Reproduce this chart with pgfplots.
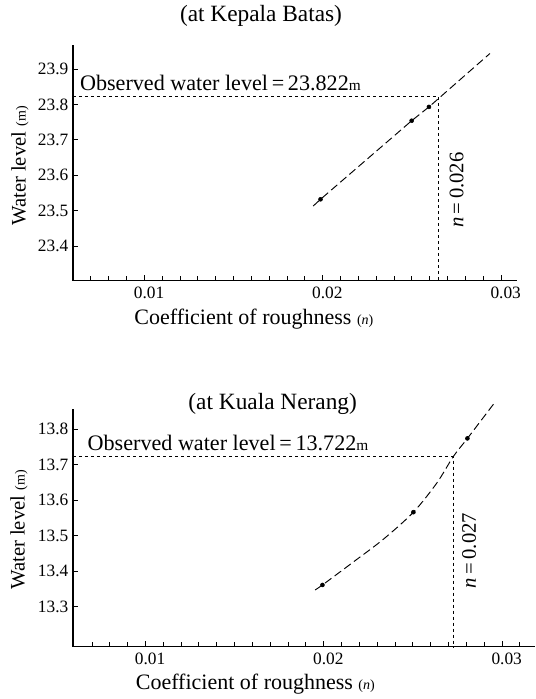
\documentclass[border=0pt]{standalone}
\usepackage{pgfplots}
\pgfplotsset{compat=1.18}
\usepackage{fontspec}
\setmainfont{Liberation Serif}
\begin{document}
\begin{tikzpicture}
\useasboundingbox (0,0) rectangle (401.25pt,524.25pt);
\pgfplotsset{
  myax/.style={
    scale only axis,
    anchor=south west,
    axis x line*=bottom,
    axis y line*=left,
    axis line style={-, line width=0.8pt},
    tick align=inside,
    major tick length=4pt,
    minor tick length=3.5pt,
    tick style={line width=0.6pt, black},
    scaled x ticks=false,
    scaled y ticks=false,
    /pgf/number format/assume math mode=true,
    x tick label style={font=\fontsize{13}{14}\selectfont, yshift=-1pt, xshift=3.5pt},
    y tick label style={font=\fontsize{13}{14}\selectfont},
    xtick={0.01,0.02,0.03},
    xticklabels={0.01,0.02,0.03},
    clip=false,
  },
  curve/.style={black, line width=0.7pt, dash pattern=on 6pt off 3pt},
  refl/.style={black, line width=0.6pt, dash pattern=on 2.5pt off 2pt},
  pts/.style={only marks, mark=*, mark size=1.5pt, black},
}
% ---------- Top: Kepala Batas ----------
\begin{axis}[myax,
  at={(54.75pt,313.725pt)},
  width=332.775pt, height=176.775pt,
  xmin=0.006, xmax=0.03088,
  ymin=23.302, ymax=23.968,
  minor xtick={0.007,0.008,0.009,0.011,0.012,0.013,0.014,0.015,0.016,0.017,0.018,0.019,0.021,0.022,0.023,0.024,0.025,0.026,0.027,0.028,0.029},
  ytick={23.4,23.5,23.6,23.7,23.8,23.9},
  yticklabels={23.4,23.5,23.6,23.7,23.8,23.9},
]
\addplot[refl] coordinates {(0.006,23.822) (0.0265,23.822) (0.0265,23.302)};
\addplot[curve] coordinates {(0.01947,23.513) (0.01988,23.532) (0.02499,23.754) (0.02596,23.793) (0.02938,23.944)};
\addplot[pts] coordinates {(0.01988,23.532) (0.02499,23.754) (0.02596,23.793)};
\node[anchor=base west, inner sep=0pt, font=\fontsize{16.6}{18}\selectfont] at (axis cs:0.00638,23.838) {Observed water level\,=\,23.822{\fontsize{11.5}{12}\selectfont m}};
\node[rotate=90, inner sep=0pt, font=\fontsize{15.5}{17}\selectfont] at (axis cs:0.02751,23.558) {\textit{n}\,=\,0.026};
\end{axis}
% ---------- Bottom: Kuala Nerang ----------
\begin{axis}[myax,
  at={(54.75pt,39.225pt)},
  width=346.5pt, height=178.05pt,
  xmin=0.00594, xmax=0.03185,
  ymin=13.187, ymax=13.856,
  minor xtick={0.007,0.008,0.009,0.011,0.012,0.013,0.014,0.015,0.016,0.017,0.018,0.019,0.021,0.022,0.023,0.024,0.025,0.026,0.027,0.028,0.029,0.031},
  ytick={13.3,13.4,13.5,13.6,13.7,13.8},
  yticklabels={13.3,13.4,13.5,13.6,13.7,13.8},
]
\addplot[refl] coordinates {(0.00594,13.722) (0.02727,13.722) (0.02727,13.187)};
\addplot[curve, smooth, tension=0.5] coordinates {(0.01952,13.347) (0.01993,13.361) (0.02167,13.426) (0.02335,13.490) (0.02503,13.566) (0.02634,13.648) (0.02727,13.723) (0.02806,13.774) (0.02956,13.873)};
\addplot[pts] coordinates {(0.01993,13.361) (0.02503,13.566) (0.02806,13.774)};
\node[anchor=base west, inner sep=0pt, font=\fontsize{16.6}{18}\selectfont] at (axis cs:0.006747,13.741) {Observed water level\,=\,13.722{\fontsize{11.5}{12}\selectfont m}};
\node[rotate=90, inner sep=0pt, font=\fontsize{15.5}{17}\selectfont] at (axis cs:0.02815,13.458) {\textit{n}\,=\,0.027};
\end{axis}
% ---------- Titles and axis labels ----------
\node[anchor=base, inner sep=0pt, font=\fontsize{17.5}{19}\selectfont] at (195.75pt,508pt) {(at Kepala Batas)};
\node[rotate=90, inner sep=0pt, font=\fontsize{15.5}{18}\selectfont] at (15pt,399.75pt) {Water level {\fontsize{10.5}{12}\selectfont(m)}};
\node[anchor=base, inner sep=0pt, font=\fontsize{16.5}{18}\selectfont] at (190.4pt,280.5pt) {Coefficient of roughness {\fontsize{10.5}{12}\selectfont(\textit{n})}};
\node[anchor=base, inner sep=0pt, font=\fontsize{17.5}{19}\selectfont] at (204.5pt,216.75pt) {(at Kuala Nerang)};
\node[rotate=90, inner sep=0pt, font=\fontsize{15.5}{18}\selectfont] at (14.25pt,126.75pt) {Water level {\fontsize{10.5}{12}\selectfont(m)}};
\node[anchor=base, inner sep=0pt, font=\fontsize{16.5}{18}\selectfont] at (191.5pt,6.75pt) {Coefficient of roughness {\fontsize{10.5}{12}\selectfont(\textit{n})}};
\end{tikzpicture}
\end{document}
